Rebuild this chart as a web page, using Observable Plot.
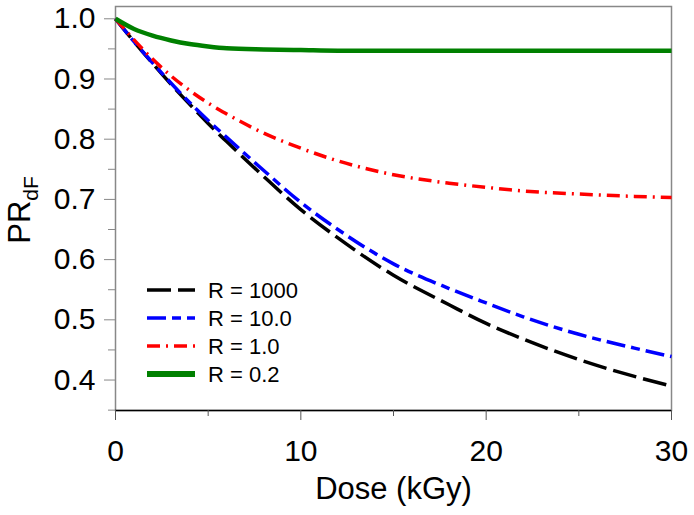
<!DOCTYPE html>
<html><head><meta charset="utf-8">
<script src="https://cdn.jsdelivr.net/npm/d3@7"></script>
<script src="https://cdn.jsdelivr.net/npm/@observablehq/plot@0.6"></script>
<style>body{margin:0;background:#fff} #chart{width:694px;height:515px}</style>
</head><body><div id="chart"></div>
<script>
// Dose (kGy)
const dose  = [0, 1, 2, 3, 4, 5, 6, 8, 10, 12, 15, 18, 20, 22, 25, 28, 30];
// PR_dF for each R
const r1000 = [1.000,0.962,0.926,0.891,0.858,0.826,0.796,0.738,0.683,0.636,0.574,0.525,0.494,0.468,0.434,0.406,0.390];
const r10   = [1.000,0.962,0.927,0.893,0.861,0.831,0.803,0.748,0.695,0.650,0.593,0.552,0.528,0.505,0.476,0.453,0.439];
const r1    = [1.000,0.965,0.933,0.905,0.881,0.860,0.842,0.810,0.785,0.764,0.741,0.727,0.720,0.714,0.709,0.705,0.703];
const r02   = [1.000,0.983,0.972,0.964,0.958,0.954,0.951,0.949,0.948,0.947,0.947,0.947,0.947,0.947,0.947,0.947,0.947];

const seriesValues = [r1000, r10, r1, r02];
const seriesNames  = ["R = 1000", "R = 10.0", "R = 1.0", "R = 0.2"];
const seriesColors = ["#000000", "#0000ff", "#ff0000", "#008000"];
const seriesDash   = ["24,7", "19,6,9,6", "13,6,2,6", null];
const seriesWidth  = [3.5, 3.5, 3.5, 4.5];

const yTicks = [0.4, 0.5, 0.6, 0.7, 0.8, 0.9, 1.0];
const yMinor = [0.35, 0.45, 0.55, 0.65, 0.75, 0.85, 0.95];
const xTicks = [0, 10, 20, 30];
const xMinor = [5, 15, 25];
const xLabel = "Dose (kGy)";
const yDomain = [0.3494, 1.0204];
const xDomain = [0, 30];

const font = "'Liberation Sans', Arial, sans-serif";

const lineMarks = seriesValues.map((vals, k) =>
  Plot.line(dose.map((d, i) => ({dose: d, pr: vals[i]})), {
    x: "dose", y: "pr", curve: "monotone-x",
    stroke: seriesColors[k], strokeWidth: seriesWidth[k],
    strokeDasharray: seriesDash[k] ?? undefined, strokeLinecap: "butt"
  })
);

const chart = Plot.plot({
  width: 694, height: 515,
  marginLeft: 115, marginRight: 23, marginTop: 6, marginBottom: 105,
  x: {domain: xDomain},
  y: {domain: yDomain},
  style: {fontFamily: font, fontSize: "30px", color: "black", background: "white", overflow: "visible"},
  marks: [
    Plot.frame({stroke: "#888", strokeWidth: 1.5}),
    Plot.ruleY([yDomain[0]], {stroke: "black", strokeWidth: 1.5}),
    Plot.axisY(yTicks, {tickSize: 11, tickPadding: 9, stroke: "#888", fill: "black", tickFormat: d3.format(".1f"), label: null, fontSize: 30}),
    Plot.axisY(yMinor, {tickSize: 7, stroke: "#888", fill: "none", label: null}),
    Plot.axisX(xTicks, {tickSize: 10, tickPadding: 19, stroke: "#555", fill: "black", label: null, fontSize: 30}),
    Plot.axisX(xMinor, {tickSize: 6, stroke: "#555", fill: "none", label: null}),
    ...lineMarks,
    Plot.text([xLabel], {frameAnchor: "bottom", dy: 88, fontSize: 31, fill: "black"})
  ]
});
document.getElementById("chart").appendChild(chart);

const svg = d3.select(chart);
// Y axis label with subscript
const yl = svg.append("text")
  .attr("transform", "translate(30,210) rotate(-90)")
  .attr("text-anchor", "middle")
  .attr("font-family", font)
  .attr("fill", "black");
yl.append("tspan").attr("font-size", 31).text("PR");
yl.append("tspan").attr("font-size", 21).attr("dy", 8).text("dF");

// Legend
const lg = svg.append("g").attr("transform", "translate(147,290)");
seriesNames.forEach((name, k) => {
  const row = lg.append("g").attr("transform", `translate(0,${k * 28})`);
  row.append("line").attr("x1", 0).attr("x2", 48).attr("y1", 0).attr("y2", 0)
    .attr("stroke", seriesColors[k]).attr("stroke-width", seriesWidth[k] + (k === 3 ? 1.5 : 0))
    .attr("stroke-dasharray", seriesDash[k]);
  row.append("text").attr("x", 61).attr("y", 0).attr("dy", "0.35em")
    .attr("text-anchor", "start")
    .attr("font-family", font).attr("font-size", 22).attr("fill", "black").text(name);
});
</script>
</body></html>
